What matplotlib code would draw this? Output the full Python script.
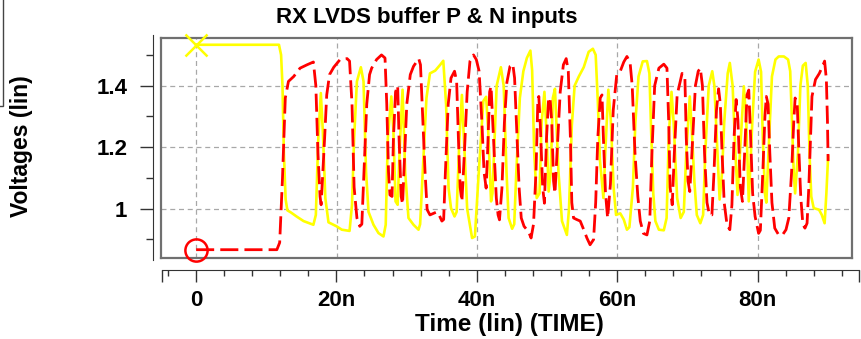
import matplotlib

matplotlib.use("Agg")
import matplotlib.pyplot as plt
from matplotlib.patches import Rectangle

# P input (yellow), time in ns / voltage in V
p_time = [0, 11.8, 12.1, 12.3, 12.5, 12.75, 13.0, 13.5, 14.3, 15.3, 16.7, 17.05, 17.4, 17.76, 18.05, 18.4,
          18.85, 20.0, 20.75, 21.85, 22.2, 22.5, 22.9, 23.46, 23.84, 24.2, 24.55, 25.26, 25.97, 26.68, 27.0,
          27.3, 27.8, 28.1, 28.4, 28.7, 29.0, 29.4, 29.77, 30.24, 30.96, 31.67, 31.9, 32.4, 32.8, 33.3, 34.05,
          34.76, 35.2, 35.6, 35.95, 36.3, 36.8, 37.1, 37.5, 37.85, 38.2, 38.6, 39.3, 39.7, 40.2, 40.9, 41.3,
          41.6, 42.0, 42.2, 42.8, 43.4, 43.8, 44.2, 44.5, 45.0, 45.3, 45.6, 46.1, 46.6, 47.1, 47.6, 47.85,
          48.15, 48.5, 48.9, 49.2, 49.6, 49.9, 50.2, 50.5, 50.8, 51.1, 51.6, 52.1, 52.8, 53.1, 53.5, 53.9,
          54.5, 55.2, 55.9, 56.5, 56.9, 57.2, 57.5, 58.0, 58.3, 58.7, 59.05, 59.45, 59.8, 60.4, 60.9, 61.35,
          61.7, 62.2, 62.55, 63.0, 63.6, 64.2, 64.55, 64.8, 65.1, 65.4, 65.9, 66.6, 67.0, 67.3, 67.7, 68.0,
          68.5, 69.0, 69.45, 69.8, 70.3, 70.6, 70.95, 71.3, 71.8, 72.2, 72.5, 73.0, 73.5, 73.8, 74.2, 74.55,
          74.9, 75.2, 75.7, 76.0, 76.4, 76.8, 77.1, 77.5, 78.0, 78.35, 78.7, 79.2, 79.6, 80.1, 80.45, 80.7,
          81.0, 81.2, 81.5, 82.0, 82.5, 82.96, 83.7, 84.3, 84.6, 84.85, 85.1, 85.3, 85.7, 86.05, 86.4, 86.8,
          87.1, 87.35, 87.6, 87.95, 88.7, 89.1, 89.5, 89.75, 90.0]
p_volt = [1.533, 1.533, 1.50, 1.40, 1.18, 1.03, 0.995, 0.988, 0.975, 0.96, 0.948, 0.98, 1.23, 1.376, 1.25,
          1.035, 0.956, 0.943, 0.932, 0.928, 1.013, 1.23, 1.414, 1.46, 1.414, 1.12, 0.99, 0.948, 0.921, 0.91,
          0.948, 1.23, 1.365, 1.25, 1.024, 1.013, 1.2, 1.387, 1.12, 0.97, 0.948, 0.932, 0.95, 1.176, 1.36,
          1.44, 1.449, 1.468, 1.481, 1.338, 1.067, 1.002, 0.975, 0.99, 1.23, 1.37, 1.2, 1.0, 0.905, 0.91,
          1.1, 1.35, 1.364, 1.25, 1.024, 1.05, 1.40, 1.46, 1.40, 1.12, 0.97, 0.935, 0.95, 1.12, 1.36, 1.447,
          1.49, 1.514, 1.45, 1.18, 1.035, 1.05, 1.28, 1.38, 1.25, 1.056, 1.12, 1.36, 1.39, 1.12, 0.96, 0.915,
          1.0, 1.27, 1.40, 1.43, 1.46, 1.51, 1.52, 1.50, 1.35, 1.16, 1.035, 1.20, 1.387, 1.29, 1.07, 0.98,
          0.985, 0.965, 0.932, 0.94, 1.07, 1.28, 1.43, 1.479, 1.48, 1.44, 1.25, 1.05, 0.96, 0.932, 0.93,
          0.97, 1.23, 1.38, 1.28, 1.035, 0.97, 0.99, 1.18, 1.365, 1.25, 1.09, 0.98, 0.953, 0.98, 1.18, 1.40,
          1.447, 1.40, 1.20, 1.03, 1.12, 1.28, 1.44, 1.474, 1.40, 1.18, 1.045, 1.20, 1.398, 1.28, 1.024,
          1.28, 1.445, 1.485, 1.445, 1.23, 1.05, 1.02, 1.18, 1.43, 1.485, 1.495, 1.495, 1.485, 1.447, 1.285,
          1.12, 1.05, 1.18, 1.40, 1.465, 1.474, 1.40, 1.18, 1.04, 1.002, 0.997, 0.98, 0.953, 1.05, 1.17]

# N input (red dashed)
n_time = [0, 11.5, 11.9, 12.3, 12.7, 13.15, 13.9, 14.8, 15.8, 16.7, 17.05, 17.35, 17.65, 17.8, 18.05, 18.3,
          18.6, 19.0, 19.6, 20.5, 21.5, 21.85, 22.2, 22.5, 22.9, 23.3, 23.6, 23.9, 24.3, 24.7, 25.0, 25.7,
          26.4, 26.9, 27.15, 27.4, 27.6, 27.9, 28.1, 28.4, 28.7, 28.9, 29.2, 29.4, 29.7, 30.0, 30.5, 30.96,
          31.7, 31.95, 32.3, 32.6, 32.9, 33.3, 33.8, 34.3, 34.6, 35.0, 35.25, 35.5, 35.9, 36.3, 36.8, 37.1,
          37.35, 37.6, 37.85, 38.2, 38.6, 39.0, 39.5, 39.9, 40.3, 40.7, 41.0, 41.3, 41.5, 41.8, 42.0, 42.35,
          42.75, 43.0, 43.2, 43.55, 43.9, 44.25, 44.7, 45.1, 45.35, 45.7, 46.0, 46.3, 46.7, 47.35, 47.7,
          48.05, 48.4, 48.65, 48.8, 49.0, 49.35, 49.6, 49.9, 50.2, 50.4, 50.65, 50.9, 51.1, 51.4, 51.85,
          52.3, 52.7, 53.0, 53.3, 53.5, 53.75, 54.2, 54.7, 55.2, 55.65, 56.1, 56.6, 56.9, 57.2, 57.55, 57.8,
          58.0, 58.3, 58.6, 59.0, 59.4, 59.9, 60.4, 60.9, 61.35, 61.8, 62.1, 62.5, 62.9, 63.25, 63.7, 64.2,
          64.6, 64.9, 65.3, 65.9, 66.6, 67.05, 67.3, 67.5, 67.8, 68.1, 68.5, 69.2, 69.6, 69.8, 70.05, 70.3,
          70.6, 71.1, 71.5, 71.8, 72.1, 72.4, 72.75, 73.1, 73.45, 73.75, 74.1, 74.4, 74.65, 74.9, 75.2,
          75.6, 76.0, 76.3, 76.6, 76.9, 77.15, 77.5, 77.8, 78.1, 78.45, 78.7, 78.95, 79.25, 79.6, 80.1,
          80.35, 80.7, 81.0, 81.2, 81.45, 81.7, 82.0, 82.4, 82.96, 83.5, 84.0, 84.4, 84.8, 85.1, 85.3, 85.6,
          85.85, 86.1, 86.4, 86.7, 87.0, 87.25, 87.5, 87.7, 88.2, 88.75, 89.2, 89.5, 89.75, 89.9, 90.0]
n_volt = [0.867, 0.867, 0.89, 1.10, 1.36, 1.414, 1.43, 1.457, 1.468, 1.477, 1.40, 1.18, 1.04, 1.013, 1.12,
          1.23, 1.37, 1.436, 1.46, 1.485, 1.488, 1.48, 1.34, 1.07, 0.97, 0.943, 0.95, 1.12, 1.34, 1.436,
          1.457, 1.485, 1.50, 1.49, 1.34, 1.12, 1.045, 1.04, 1.23, 1.38, 1.40, 1.23, 1.04, 1.015, 1.18, 1.34,
          1.436, 1.463, 1.488, 1.468, 1.28, 1.12, 0.997, 0.98, 0.985, 0.99, 0.98, 0.96, 0.965, 1.12, 1.34,
          1.425, 1.447, 1.414, 1.23, 1.07, 1.024, 1.18, 1.38, 1.48, 1.50, 1.485, 1.447, 1.28, 1.12, 1.067,
          1.18, 1.38, 1.398, 1.23, 1.035, 0.98, 0.964, 1.067, 1.28, 1.41, 1.463, 1.47, 1.425, 1.23, 1.067,
          0.97, 0.943, 0.925, 0.905, 0.95, 1.12, 1.34, 1.365, 1.28, 1.07, 1.018, 1.23, 1.36, 1.36, 1.28, 1.09,
          1.05, 1.18, 1.38, 1.468, 1.488, 1.447, 1.23, 1.02, 0.97, 0.965, 0.96, 0.932, 0.905, 0.883, 0.9,
          1.02, 1.23, 1.36, 1.37, 1.23, 1.05, 0.97, 1.08, 1.32, 1.436, 1.447, 1.477, 1.495, 1.475, 1.40, 1.18,
          1.04, 0.96, 0.92, 0.915, 0.96, 1.176, 1.40, 1.457, 1.47, 1.457, 1.28, 1.07, 1.013, 1.18, 1.37, 1.44,
          1.43, 1.23, 1.09, 1.056, 1.18, 1.40, 1.447, 1.457, 1.40, 1.18, 1.02, 0.98, 0.98, 1.12, 1.32, 1.39,
          1.34, 1.18, 1.02, 0.948, 0.932, 1.013, 1.23, 1.355, 1.29, 1.07, 1.024, 1.176, 1.37, 1.386, 1.24,
          1.05, 0.975, 0.92, 0.93, 1.12, 1.30, 1.365, 1.34, 1.18, 1.02, 0.937, 0.915, 0.915, 0.932, 0.97,
          1.12, 1.28, 1.36, 1.34, 1.18, 1.04, 0.95, 0.937, 0.953, 1.07, 1.23, 1.365, 1.42, 1.44, 1.463, 1.48,
          1.42, 1.29, 1.155]

x_ticks = [0, 20, 40, 60, 80]
x_tick_labels = ["0", "20n", "40n", "60n", "80n"]
x_minor = [-4, 4, 8, 12, 16, 24, 28, 32, 36, 44, 48, 52, 56, 64, 68, 72, 76, 84, 88, 92]
y_ticks = [1.0, 1.2, 1.4]
y_tick_labels = ["1", "1.2", "1.4"]
y_minor = [0.9, 1.1, 1.3, 1.5]

plt.rcParams["font.family"] = ["Liberation Sans", "DejaVu Sans"]
plt.rcParams["font.weight"] = "bold"

W, H = 862, 339
fig = plt.figure(figsize=(W / 100, H / 100), dpi=100)


# pixel box -> figure rect
def box(left, top, right, bottom):
    return [left / W, 1 - bottom / H, (right - left) / W, (bottom - top) / H]


# 主绘图区
ax = fig.add_axes(box(161, 38, 852, 258))
ax.plot(p_time, p_volt, color="#ffff00", lw=1.9, zorder=3)
ax.plot(n_time, n_volt, color="#ff0000", lw=2.0, linestyle=(0, (6.5, 2.2)), zorder=4)
ax.plot(p_time[0], p_volt[0], marker="x", ms=16, mew=1.8, color="#ffff00", zorder=5, clip_on=False)
ax.plot(n_time[0], n_volt[0], marker="o", ms=16, mew=1.8, mfc="none", mec="#ff0000", zorder=5, clip_on=False)
ax.set_xlim(-5, 93.4)
ax.set_ylim(0.84, 1.555)
ax.set_xticks(x_ticks)
ax.set_yticks(y_ticks)
ax.tick_params(length=0, labelbottom=False, labelleft=False)
ax.grid(True, color="#a8a8a8", ls=(0, (4, 3)), lw=0.9)
for s in ax.spines.values():
    s.set_color("#707070")
    s.set_linewidth(1.6)

# 左侧独立坐标轴
axl = fig.add_axes(box(153, 35, 154, 260))
axl.set_ylim(0.8332, 1.5649)
axl.set_xticks([])
for name, s in axl.spines.items():
    s.set_visible(name == "left")
axl.spines["left"].set_color("#333333")
axl.set_yticks(y_ticks, y_tick_labels)
axl.set_yticks(y_minor, minor=True)
axl.tick_params(axis="y", which="major", length=9.5, width=1, pad=9, labelsize=16, color="#333333")
axl.tick_params(axis="y", which="minor", length=5, width=1, color="#333333")
axl.patch.set_visible(False)

# 底部独立坐标轴
axb = fig.add_axes(box(162, 269, 859, 270))
axb.set_xlim(-4.84, 94.44)
axb.set_yticks([])
for name, s in axb.spines.items():
    s.set_visible(name == "bottom")
axb.spines["bottom"].set_color("#333333")
axb.set_xticks([-4.84] + x_ticks + [94.44], [""] + x_tick_labels + [""])
axb.set_xticks(x_minor, minor=True)
axb.tick_params(axis="x", which="major", length=8.5, width=1, pad=6, labelsize=16, color="#333333")
axb.tick_params(axis="x", which="minor", length=4.3, width=1, color="#333333")
axb.patch.set_visible(False)

fig.text(427 / W, 1 - 18 / H, "RX LVDS buffer P & N inputs", ha="center", va="center", fontsize=16,
         fontweight="bold")
fig.text(22 / W, 1 - 146 / H, "Voltages (lin)", ha="center", va="center", rotation=90, fontsize=16.5,
         fontweight="bold")
fig.text(509 / W, 1 - 324 / H, "Time (lin) (TIME)", ha="center", va="center", fontsize=17.5,
         fontweight="bold")

# 左上角被裁掉的图例框
fig.add_artist(Rectangle((-5 / W, 1 - 106 / H), 7.5 / W, 112 / H, transform=fig.transFigure, fill=False,
                         ec="#444444", lw=1))

fig.savefig("out.png", dpi=100)
